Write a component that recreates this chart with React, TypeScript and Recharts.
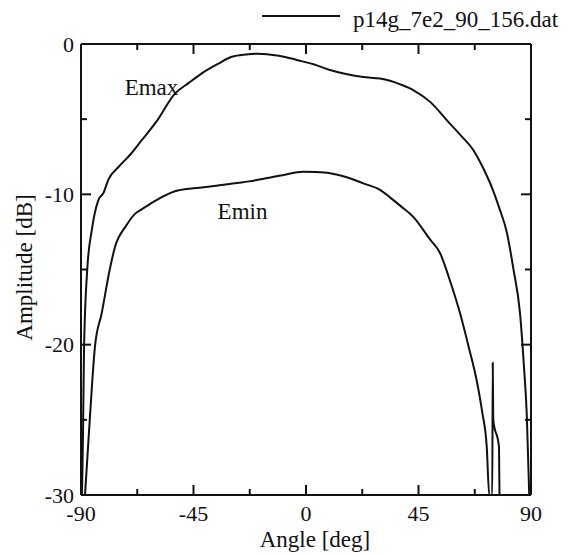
import { LineChart, Line, XAxis, YAxis, Legend, ReferenceDot } from "recharts";

// angle [deg] / amplitude [dB]
const emaxAngle = [
  -89.6, -89.2, -88.8, -87.5, -85.7, -83.1, -81, -79, -75.1, -70, -65.7, -60, -52.4, -47, -41.7, -35,
  -29.7, -24, -19.7, -14, -8, -3.7, 3, 9.6, 16, 22.9, 29.6, 33.6, 38, 42.9, 50, 56.3, 62, 66.9, 71,
  74.5, 77.5, 80.3, 83, 85.6, 87.2, 88.3, 89.3,
];
const emaxDb = [
  -30, -26, -20.4, -15, -12.4, -10.4, -9.9, -9.0, -8.2, -7.3, -6.4, -5.2, -3.3, -2.6, -1.95, -1.3,
  -0.85, -0.7, -0.65, -0.72, -0.88, -1.06, -1.35, -1.73, -2.0, -2.2, -2.3, -2.45, -2.7, -3.06, -3.9,
  -5.06, -6.1, -7.05, -8.3, -9.6, -11, -12.5, -15, -17.9, -21.5, -24.6, -30,
];

const eminAngle = [
  -88.4, -86.5, -84.4, -81.7, -78.5, -76.4, -72, -68.4, -65.7, -60, -52.4, -45, -39.1, -30, -19.7, -10,
  -1.1, 4, 9.6, 16, 22.9, 29.6, 33.6, 38, 42.9, 49.6, 53.6, 57.5, 61.6, 65, 68.3, 70.5, 72.3, 73.3,
  74.5, 74.7, 74.9, 77.2, 77.4,
];
const eminDb = [
  -30, -25, -20.1, -17.9, -15, -13.5, -12.1, -11.3, -11.0, -10.4, -9.8, -9.6, -9.5, -9.3, -9.05, -8.75,
  -8.5, -8.52, -8.6, -8.85, -9.27, -9.7, -10.2, -10.8, -11.5, -13.0, -13.9, -15.7, -17.9, -20.1, -22.4,
  -24.5, -26.8, -30, -30, -21.2, -25, -26.8, -30,
];

const xTicks = [-90, -67.5, -45, -22.5, 0, 22.5, 45, 67.5, 90];
const yTicks = [-30, -25, -20, -15, -10, -5, 0];
const legendName = "p14g_7e2_90_156.dat";

const emax = emaxAngle.map((a, i) => ({ angle: a, db: emaxDb[i] }));
const emin = eminAngle.map((a, i) => ({ angle: a, db: eminDb[i] }));

// frame of the plot box
const W = 568;
const H = 555;
const LEGEND_H = 40;
const PLOT_LEFT = 81;
const PLOT_TOP = 44;
const PLOT_RIGHT = 531;
const PLOT_BOTTOM = 495;
const PLOT_W = PLOT_RIGHT - PLOT_LEFT;
const PLOT_H = PLOT_BOTTOM - PLOT_TOP;

const FONT = "Liberation Serif, Times New Roman, serif";
const INK = "#111";
const txt = { fontFamily: FONT, fill: INK };

const isMajorX = (v: number) => Math.abs(v % 45) < 1e-6;
const isMajorY = (v: number) => Math.abs(v % 10) < 1e-6;

// bottom axis tick: draws inward marks at bottom and top of the box
function BottomTick({ x, y, payload }: any) {
  const major = isMajorX(payload.value);
  const len = major ? 10 : 6;
  const top = y - PLOT_H;
  return (
    <g>
      <line x1={x} x2={x} y1={y} y2={y - len} stroke={INK} strokeWidth={2} />
      <line x1={x} x2={x} y1={top} y2={top + len} stroke={INK} strokeWidth={2} />
      {major && (
        <text x={x} y={y + 26} textAnchor="middle" fontSize={22} style={txt}>
          {payload.value}
        </text>
      )}
    </g>
  );
}

// left axis tick: inward marks at left and right of the box
function LeftTick({ x, y, payload }: any) {
  const major = isMajorY(payload.value);
  const len = major ? 10 : 6;
  const right = x + PLOT_W;
  return (
    <g>
      <line x1={x} x2={x + len} y1={y} y2={y} stroke={INK} strokeWidth={2} />
      <line x1={right} x2={right - len} y1={y} y2={y} stroke={INK} strokeWidth={2} />
      {major && (
        <text x={x - 7} y={y + 7.5} textAnchor="end" fontSize={22} style={txt}>
          {payload.value}
        </text>
      )}
    </g>
  );
}

function LegendBox() {
  return (
    <div style={{ width: W, height: LEGEND_H }}>
      <svg width={W} height={LEGEND_H}>
        <line x1={262} x2={340} y1={16} y2={16} stroke={INK} strokeWidth={2} />
        <text x={353} y={27} fontSize={23} style={txt}>
          {legendName}
        </text>
      </svg>
    </div>
  );
}

const textLabel = (value: string) => (props: any) => {
  const { viewBox } = props;
  const cx = viewBox.x + (viewBox.width || 0) / 2;
  const cy = viewBox.y + (viewBox.height || 0) / 2;
  return (
    <text x={cx} y={cy + 7} textAnchor="middle" fontSize={23} style={txt}>
      {value}
    </text>
  );
};

const frame = { stroke: INK, strokeWidth: 2 };

export default function App() {
  return (
    <div style={{ position: "absolute", left: 0, top: 0 }}>
      <LineChart
        width={W}
        height={H}
        margin={{ top: PLOT_TOP - LEGEND_H - 1, right: W - PLOT_RIGHT - 1, bottom: 0, left: 0 }}
      >
        <Legend
          verticalAlign="top"
          content={() => <LegendBox />}
          wrapperStyle={{ top: 0, left: 0, width: W, height: LEGEND_H }}
        />
        <XAxis
          type="number"
          dataKey="angle"
          domain={[-90, 90]}
          ticks={xTicks}
          allowDataOverflow
          height={H - PLOT_BOTTOM}
          tickSize={0}
          tickMargin={0}
          tickLine={false}
          tick={<BottomTick />}
          axisLine={frame}
          interval={0}
          label={{
            position: "insideBottom",
            content: (p: any) => {
              const vb = p.viewBox;
              return (
                <text x={vb.x + vb.width / 2 + 9} y={547} textAnchor="middle" fontSize={23} style={txt}>
                  Angle [deg]
                </text>
              );
            },
          }}
        />
        <XAxis
          xAxisId="top"
          orientation="top"
          type="number"
          dataKey="angle"
          domain={[-90, 90]}
          height={1}
          tick={false}
          tickLine={false}
          axisLine={frame}
        />
        <YAxis
          type="number"
          domain={[-30, 0]}
          ticks={yTicks}
          allowDataOverflow
          width={PLOT_LEFT}
          tickSize={0}
          tickMargin={0}
          tickLine={false}
          tick={<LeftTick />}
          axisLine={frame}
          interval={0}
          label={{
            position: "insideLeft",
            content: (p: any) => {
              const vb = p.viewBox;
              const cx = 24;
              const cy = vb.y + vb.height / 2 - 2;
              return (
                <text
                  x={cx}
                  y={cy}
                  transform={`rotate(-90 ${cx} ${cy})`}
                  textAnchor="middle"
                  dominantBaseline="central"
                  fontSize={23}
                  style={txt}
                >
                  Amplitude [dB]
                </text>
              );
            },
          }}
        />
        <YAxis
          yAxisId="right"
          orientation="right"
          type="number"
          domain={[-30, 0]}
          width={1}
          tick={false}
          tickLine={false}
          axisLine={frame}
        />
        <Line
          data={emax}
          dataKey="db"
          type="monotoneX"
          stroke={INK}
          strokeWidth={2}
          dot={false}
          isAnimationActive={false}
          legendType="none"
        />
        <Line
          data={emin}
          dataKey="db"
          type="monotoneX"
          stroke={INK}
          strokeWidth={2}
          dot={false}
          isAnimationActive={false}
          legendType="none"
        />
        <ReferenceDot x={-61.8} y={-2.9} r={0} fill="none" stroke="none" label={textLabel("Emax")} />
        <ReferenceDot x={-25.4} y={-11.2} r={0} fill="none" stroke="none" label={textLabel("Emin")} />
      </LineChart>
    </div>
  );
}
